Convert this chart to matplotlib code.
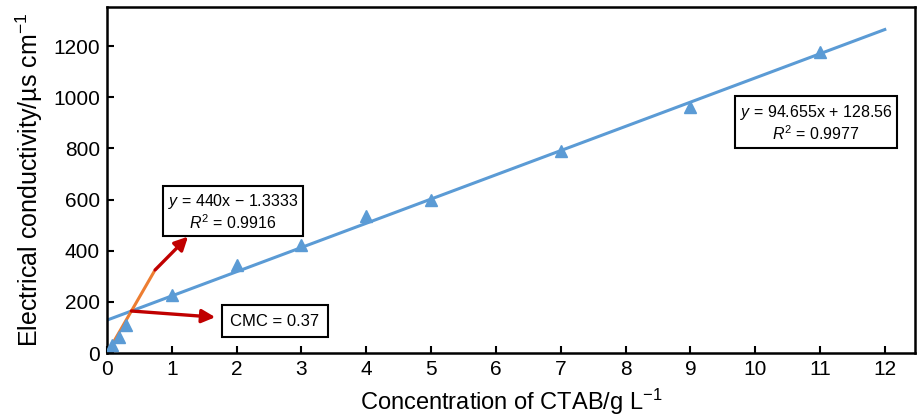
import numpy as np
import matplotlib.pyplot as plt

plt.rcParams['font.family'] = ['Liberation Sans', 'DejaVu Sans']
plt.rcParams['mathtext.fontset'] = 'custom'
plt.rcParams['mathtext.rm'] = 'Liberation Sans'
plt.rcParams['mathtext.it'] = 'Liberation Sans:italic'

# measured conductivity vs CTAB concentration
conc = [0.07, 0.19, 0.29, 1, 2, 3, 4, 5, 7, 9, 11]
cond = [31, 64, 109, 227, 344, 422, 535, 598, 790, 962, 1177]

# linear fits above / below the CMC
slope_hi, icpt_hi, r2_hi = 94.655, 128.56, 0.9977
slope_lo, icpt_lo, r2_lo = 440, -1.3333, 0.9916
cmc = 0.37

blue = '#5B9BD5'
orange = '#ED7D31'
red = '#C00000'

fig = plt.figure(figsize=(9.18, 4.19), dpi=100)
ax = fig.add_axes([0.1166, 0.1575, 0.8804, 0.8255])

xh = np.array([0, 12])
ax.plot(xh, slope_hi * xh + icpt_hi, color=blue, lw=2.2, zorder=2)
xl = np.array([0.03, 0.72])
ax.plot(xl, slope_lo * xl + icpt_lo, color=orange, lw=2.2, zorder=3)
ax.plot(conc, cond, ls='none', marker='^', ms=9, color=blue, zorder=4)

# crossing point of the two fits
x_int = (icpt_hi - icpt_lo) / (slope_lo - slope_hi)
y_int = slope_hi * x_int + icpt_hi

arrow = dict(arrowstyle='-|>', color=red, lw=2.4, mutation_scale=20, shrinkA=0, shrinkB=0)
ax.annotate('', xy=(1.25, 455), xytext=(xl[1] + 0.02, slope_lo * (xl[1] + 0.02) + icpt_lo),
            arrowprops=arrow, zorder=5)
ax.annotate('', xy=(1.67, 140), xytext=(x_int, y_int), arrowprops=arrow, zorder=5)

box = dict(boxstyle='square,pad=0.3', fc='white', ec='black', lw=1.5)
ax.text(1.94, 551, '$\\it{y}$ = %gx \u2212 %.4f\n$\\it{R}^2$ = %.4f' % (slope_lo, -icpt_lo, r2_lo),
        ha='center', va='center', fontsize=11.5, bbox=box, linespacing=1.1, zorder=6)
ax.text(10.94, 899, '$\\it{y}$ = %.3fx + %.2f\n$\\it{R}^2$ = %.4f' % (slope_hi, icpt_hi, r2_hi),
        ha='center', va='center', fontsize=11.5, bbox=box, linespacing=1.15, zorder=6)
ax.text(2.59, 125, 'CMC = %.2f' % cmc, ha='center', va='center', fontsize=12,
        bbox=dict(boxstyle='square,pad=0.5', fc='white', ec='black', lw=1.5), zorder=6)

ax.set_xlim(0, 12.47)
ax.set_ylim(0, 1352)
ax.set_xticks(range(0, 13))
ax.set_yticks(range(0, 1201, 200))
ax.tick_params(direction='in', length=5, width=1.5, labelsize=15, pad=5)
for s in ax.spines.values():
    s.set_linewidth(1.8)

ax.set_xlabel('Concentration of CTAB/g L$^{\u22121}$', fontsize=17, labelpad=6)
ax.set_ylabel('Electrical conductivity/\u00b5s cm$^{\u22121}$', fontsize=18, labelpad=6)

fig.savefig('out.png', dpi=100)
